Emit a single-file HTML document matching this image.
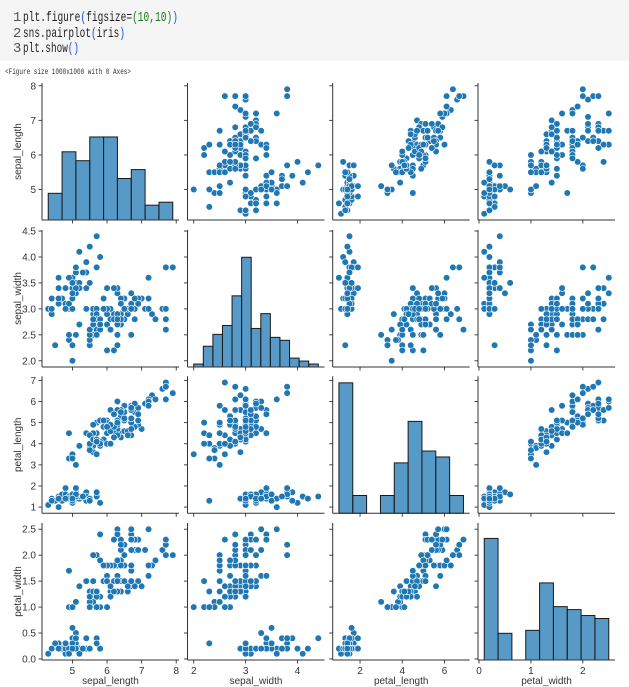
<!DOCTYPE html>
<html><head><meta charset="utf-8"><style>
html,body{margin:0;padding:0;background:#fff;width:629px;height:687px;overflow:hidden}
svg{display:block}
</style></head><body>
<svg id="fig" width="629" height="687" xmlns="http://www.w3.org/2000/svg" font-family="'Liberation Sans','Noto Sans CJK KR',sans-serif">
<g>
<rect x="0" y="0" width="629" height="61" fill="#f5f5f5"/>
<g font-family="'Liberation Mono',monospace" font-size="14" fill="#222">
<text x="13" y="21" fill="#555">1</text>
<text x="23" y="21" textLength="155" lengthAdjust="spacingAndGlyphs">plt.figure<tspan fill="#1a4cff">(</tspan>figsize=<tspan fill="#1a7a1a">(10,10)</tspan><tspan fill="#1a4cff">)</tspan></text>
<text x="13" y="37" fill="#555">2</text>
<text x="23" y="37" textLength="102" lengthAdjust="spacingAndGlyphs">sns.pairplot<tspan fill="#1a4cff">(</tspan>iris<tspan fill="#1a4cff">)</tspan></text>
<text x="13" y="52" fill="#555">3</text>
<text x="23" y="52" textLength="56" lengthAdjust="spacingAndGlyphs">plt.show<tspan fill="#1a4cff">()</tspan></text>
</g>
</g>
<text x="5" y="74" font-size="8" fill="#333" font-family="'Liberation Mono',monospace" textLength="126" lengthAdjust="spacingAndGlyphs">&lt;Figure size 1000x1000 with 0 Axes&gt;</text>
</svg>
<script>
const sepalLength=[5.1,4.9,4.7,4.6,5.0,5.4,4.6,5.0,4.4,4.9,5.4,4.8,4.8,4.3,5.8,5.7,5.4,5.1,5.7,5.1,5.4,5.1,4.6,5.1,4.8,5.0,5.0,5.2,5.2,4.7,4.8,5.4,5.2,5.5,4.9,5.0,5.5,4.9,4.4,5.1,5.0,4.5,4.4,5.0,5.1,4.8,5.1,4.6,5.3,5.0,
7.0,6.4,6.9,5.5,6.5,5.7,6.3,4.9,6.6,5.2,5.0,5.9,6.0,6.1,5.6,6.7,5.6,5.8,6.2,5.6,5.9,6.1,6.3,6.1,6.4,6.6,6.8,6.7,6.0,5.7,5.5,5.5,5.8,6.0,5.4,6.0,6.7,6.3,5.6,5.5,5.5,6.1,5.8,5.0,5.6,5.7,5.7,6.2,5.1,5.7,
6.3,5.8,7.1,6.3,6.5,7.6,4.9,7.3,6.7,7.2,6.5,6.4,6.8,5.7,5.8,6.4,6.5,7.7,7.7,6.0,6.9,5.6,7.7,6.3,6.7,7.2,6.2,6.1,6.4,7.2,7.4,7.9,6.4,6.3,6.1,7.7,6.3,6.4,6.0,6.9,6.7,6.9,5.8,6.8,6.7,6.7,6.3,6.5,6.2,5.9];
const sepalWidth=[3.5,3.0,3.2,3.1,3.6,3.9,3.4,3.4,2.9,3.1,3.7,3.4,3.0,3.0,4.0,4.4,3.9,3.5,3.8,3.8,3.4,3.7,3.6,3.3,3.4,3.0,3.4,3.5,3.4,3.2,3.1,3.4,4.1,4.2,3.1,3.2,3.5,3.6,3.0,3.4,3.5,2.3,3.2,3.5,3.8,3.0,3.8,3.2,3.7,3.3,
3.2,3.2,3.1,2.3,2.8,2.8,3.3,2.4,2.9,2.7,2.0,3.0,2.2,2.9,2.9,3.1,3.0,2.7,2.2,2.5,3.2,2.8,2.5,2.8,2.9,3.0,2.8,3.0,2.9,2.6,2.4,2.4,2.7,2.7,3.0,3.4,3.1,2.3,3.0,2.5,2.6,3.0,2.6,2.3,2.7,3.0,2.9,2.9,2.5,2.8,
3.3,2.7,3.0,2.9,3.0,3.0,2.5,2.9,2.5,3.6,3.2,2.7,3.0,2.5,2.8,3.2,3.0,3.8,2.6,2.2,3.2,2.8,2.8,2.7,3.3,3.2,2.8,3.0,2.8,3.0,2.8,3.8,2.8,2.8,2.6,3.0,3.4,3.1,3.0,3.1,3.1,3.1,2.7,3.2,3.3,3.0,2.5,3.0,3.4,3.0];
const petalLength=[1.4,1.4,1.3,1.5,1.4,1.7,1.4,1.5,1.4,1.5,1.5,1.6,1.4,1.1,1.2,1.5,1.3,1.4,1.7,1.5,1.7,1.5,1.0,1.7,1.9,1.6,1.6,1.5,1.4,1.6,1.6,1.5,1.5,1.4,1.5,1.2,1.3,1.4,1.3,1.5,1.3,1.3,1.3,1.6,1.9,1.4,1.6,1.4,1.5,1.4,
4.7,4.5,4.9,4.0,4.6,4.5,4.7,3.3,4.6,3.9,3.5,4.2,4.0,4.7,3.6,4.4,4.5,4.1,4.5,3.9,4.8,4.0,4.9,4.7,4.3,4.4,4.8,5.0,4.5,3.5,3.8,3.7,3.9,5.1,4.5,4.5,4.7,4.4,4.1,4.0,4.4,4.6,4.0,3.3,4.2,4.2,4.2,4.3,3.0,4.1,
6.0,5.1,5.9,5.6,5.8,6.6,4.5,6.3,5.8,6.1,5.1,5.3,5.5,5.0,5.1,5.3,5.5,6.7,6.9,5.0,5.7,4.9,6.7,4.9,5.7,6.0,4.8,4.9,5.6,5.8,6.1,6.4,5.6,5.1,5.6,6.1,5.6,5.5,4.8,5.4,5.6,5.1,5.1,5.9,5.7,5.2,5.0,5.2,5.4,5.1];
const petalWidth=[0.2,0.2,0.2,0.2,0.2,0.4,0.3,0.2,0.2,0.1,0.2,0.2,0.1,0.1,0.2,0.4,0.4,0.3,0.3,0.3,0.2,0.4,0.2,0.5,0.2,0.2,0.4,0.2,0.2,0.2,0.2,0.4,0.1,0.2,0.2,0.2,0.2,0.1,0.2,0.2,0.3,0.3,0.2,0.6,0.4,0.3,0.2,0.2,0.2,0.2,
1.4,1.5,1.5,1.3,1.5,1.3,1.6,1.0,1.3,1.4,1.0,1.5,1.0,1.4,1.3,1.4,1.5,1.0,1.5,1.1,1.8,1.3,1.5,1.2,1.3,1.4,1.4,1.7,1.5,1.0,1.1,1.0,1.2,1.6,1.5,1.6,1.5,1.3,1.3,1.3,1.2,1.4,1.2,1.0,1.3,1.2,1.3,1.3,1.1,1.3,
2.5,1.9,2.1,1.8,2.2,2.1,1.7,1.8,1.8,2.5,2.0,1.9,2.1,2.0,2.4,2.3,1.8,2.2,2.3,1.5,2.3,2.0,2.0,1.8,2.1,1.8,1.8,1.8,2.1,1.6,1.9,2.0,2.2,1.5,1.4,2.3,2.4,1.8,1.8,2.1,2.4,2.3,1.9,2.3,2.5,2.3,1.9,2.0,2.3,1.8];
const varNames=["sepal_length","sepal_width","petal_length","petal_width"];
const histCountsSL=[9,23,20,28,28,14,17,5,6];
const histCountsSW=[1,7,11,14,24,37,13,18,10,9,3,2,1];
const histCountsPL=[44,6,0,6,17,31,21,19,6];
const histCountsPW=[41,9,0,10,26,18,17,15,14];
const ticksSL=[5,6,7,8], ticksSW=[2.0,2.5,3.0,3.5,4.0,4.5], ticksSWx=[2,3,4], ticksPL=[1,2,3,4,5,6,7], ticksPLx=[2,4,6], ticksPW=[0.0,0.5,1.0,1.5,2.0,2.5], ticksPWx=[0,1,2];

const data=[sepalLength,sepalWidth,petalLength,petalWidth];
const hists=[histCountsSL,histCountsSW,histCountsPL,histCountsPW];
const yTicks=[ticksSL,ticksSW,ticksPL,ticksPW];
const yTickFmt=[v=>String(v),v=>v.toFixed(1),v=>String(v),v=>v.toFixed(1)];
const xTicks=[ticksSL,ticksSWx,ticksPLx,ticksPWx];
const NS="http://www.w3.org/2000/svg";
const svg=document.getElementById('fig');
const colL=[42,187.5,332.7,478], rowT=[83,230,376.3,523], W=137, H=137;
function ext(a){let mn=Math.min(...a),mx=Math.max(...a),r=mx-mn;return [mn-0.05*r,mx+0.05*r,mn,mx];}
const doms=data.map(ext);
function xs(j,v){const d=doms[j];return colL[j]+(v-d[0])/(d[1]-d[0])*W;}
function ys(i,v){const d=doms[i];return rowT[i]+H-(v-d[0])/(d[1]-d[0])*H;}
const histTop=Math.max(...hists.map(h=>Math.max(...h)))*1.05;
function mk(tag,attrs,parent){const e=document.createElementNS(NS,tag);for(const k in attrs)e.setAttribute(k,attrs[k]);(parent||svg).appendChild(e);return e;}
for(let i=0;i<4;i++){for(let j=0;j<4;j++){
  const g=mk('g',{});
  
  
  const L=colL[j],T=rowT[i],B=T+H;
  if(i===j){
    const h=hists[i],d=doms[i],n=h.length,bw=(d[3]-d[2])/n;
    for(let k=0;k<n;k++){ if(!h[k])continue;
      const x0=xs(j,d[2]+k*bw),x1=xs(j,d[2]+(k+1)*bw),hh=h[k]/histTop*H;
      const r=mk('rect',{x:x0,y:B-hh,width:x1-x0,height:hh,fill:'rgba(31,119,180,0.75)',stroke:'#1a1a1a','stroke-width':1},g);
      
      
    }
  } else {
    const X=data[j],Y=data[i];
    for(let k=0;k<X.length;k++){
      const c=mk('circle',{cx:xs(j,X[k]),cy:ys(i,Y[k]),r:3.3,fill:'#1f77b4',stroke:'#fff','stroke-width':0.6},g);
      
      
    }
  }
  mk('line',{x1:L,y1:T,x2:L,y2:B,stroke:'#333','stroke-width':1},g);
  mk('line',{x1:L,y1:B,x2:L+W,y2:B,stroke:'#333','stroke-width':1},g);
  yTicks[i].forEach(v=>{const y=ys(i,v);mk('line',{x1:L-3.5,y1:y,x2:L,y2:y,stroke:'#333','stroke-width':0.9},g);
    if(j===0){const t=mk('text',{x:L-6,y:y+3.5,'font-size':10,fill:'#333','text-anchor':'end'},g);t.textContent=yTickFmt[i](v);
      
      }});
  xTicks[j].forEach(v=>{const x=xs(j,v);mk('line',{x1:x,y1:B,x2:x,y2:B+3.5,stroke:'#333','stroke-width':0.9},g);
    if(i===3){const t=mk('text',{x:x,y:B+14,'font-size':10,fill:'#333','text-anchor':'middle'},g);t.textContent=String(v);
      
      }});
}}
for(let i=0;i<4;i++){
  const cy=rowT[i]+H/2;
  const t=mk('text',{x:0,y:0,'font-size':10,fill:'#333','text-anchor':'middle',transform:'translate(21,'+cy+') rotate(-90)'});
  t.textContent=varNames[i];
  
  
  const tx=mk('text',{x:colL[i]+W/2,y:684,'font-size':10,fill:'#333','text-anchor':'middle'});
  tx.textContent=varNames[i];
  
  
}
</script>
</body></html>
